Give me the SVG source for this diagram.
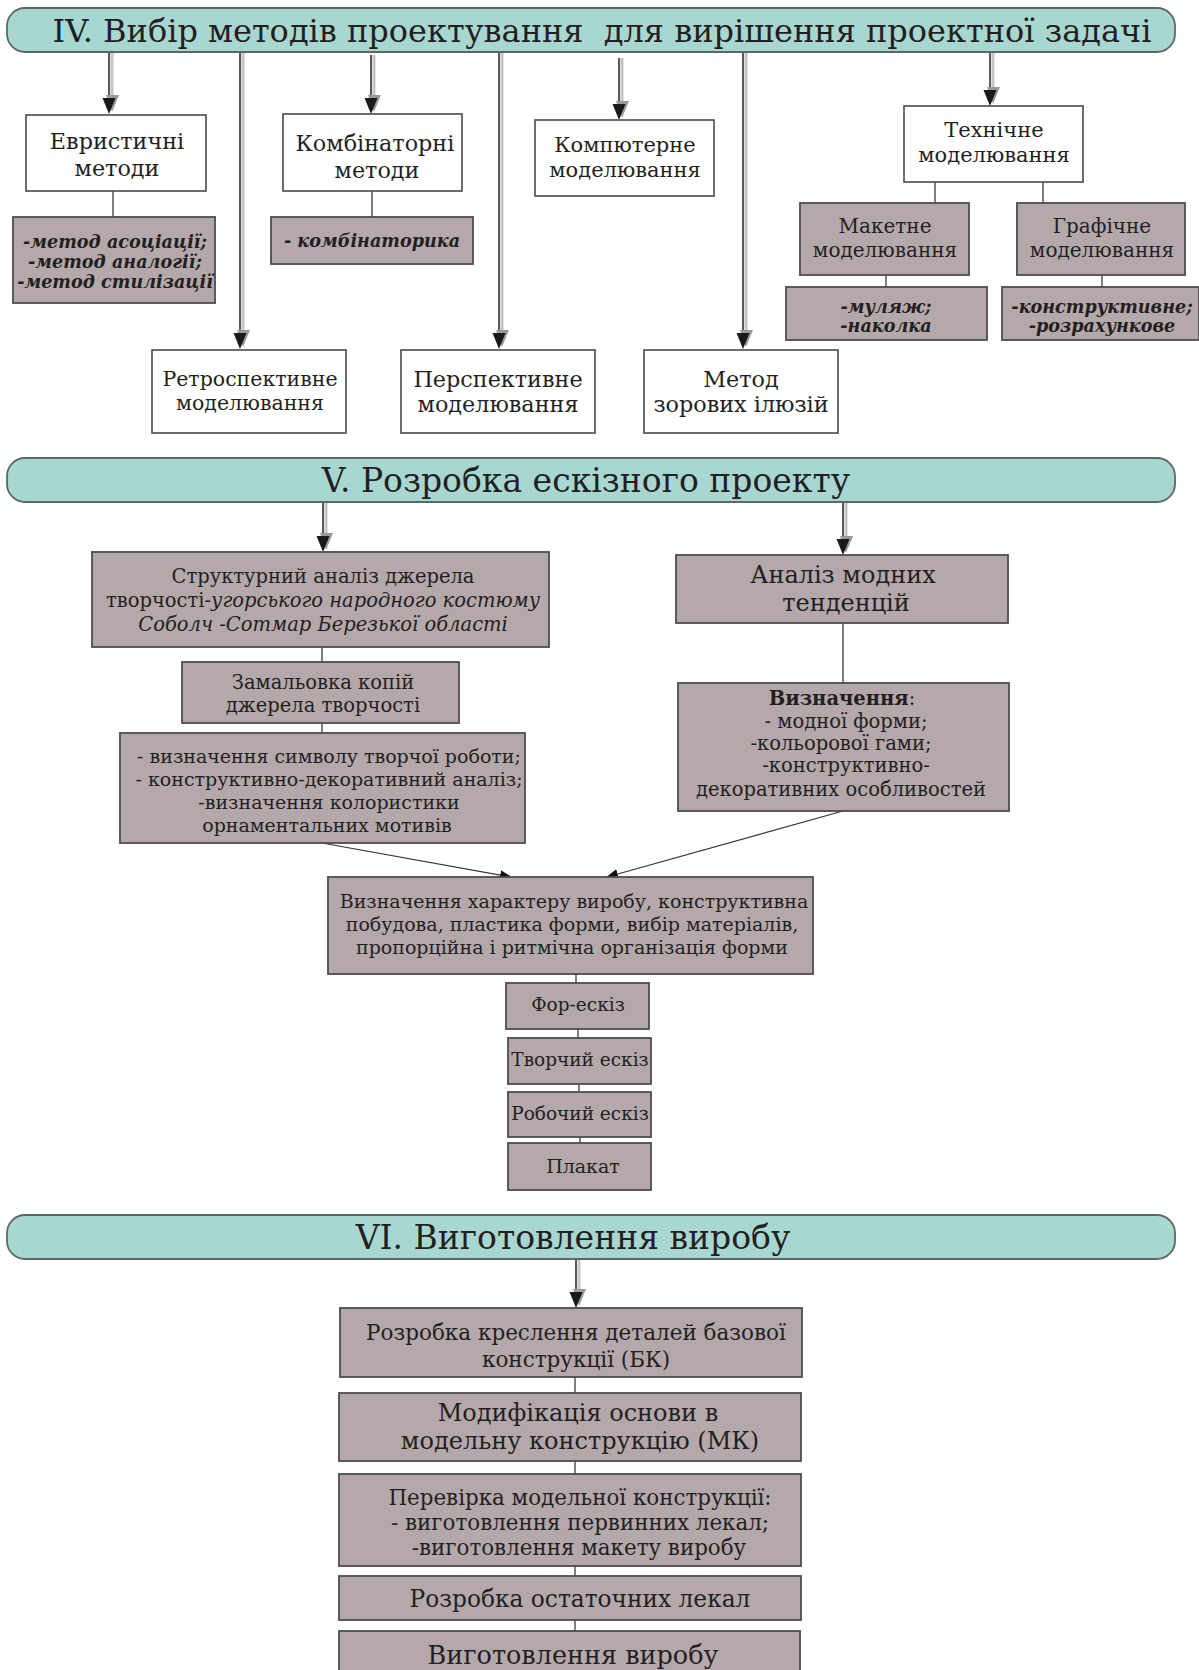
<svg xmlns="http://www.w3.org/2000/svg" xmlns:xlink="http://www.w3.org/1999/xlink" width="1199" height="1670" viewBox="0 0 1199 1670">
<style>
.wbox{fill:#ffffff;stroke:#4a4a4a;stroke-width:1.6}
.gbox{fill:#b4a8ab;stroke:#4d4d4d;stroke-width:1.8}
.ban{fill:#a8d7d1;stroke:#5a6866;stroke-width:1.8}
.t{font-family:"DejaVu Serif","Liberation Serif",serif;fill:#231f20;text-anchor:middle}
.bt{font-size:33px}
.s20{font-size:20.5px}
.s22{font-size:22.3px}
.s19{font-size:19.5px}
.bi{font-weight:bold;font-style:italic;font-size:17.6px}
.ln{stroke:#3a3a3a;stroke-width:1.3;fill:none}
.sh{stroke:#c4c4c4;stroke-width:3;fill:none}
.al{stroke:#222;stroke-width:1.5;fill:none}
.thin{stroke:#333;stroke-width:1.2;fill:none}
</style>
<defs>
<g id="ah">
<polygon points="-3,-19 10,-19 3,-2" fill="#9a9a9a"/>
<polygon points="-6.5,-16 6.5,-16 0,0" fill="#1a1a1a"/>
</g>
<marker id="sm" markerWidth="12" markerHeight="10" refX="11" refY="5" orient="auto" markerUnits="userSpaceOnUse">
<polygon points="0,0 12,5 0,10" fill="#111"/>
</marker>
</defs>

<g id="connectors">
<line class="sh" x1="112" y1="53" x2="112" y2="98"/><line class="al" x1="109" y1="53" x2="109" y2="100"/><use xlink:href="#ah" x="109" y="114"/>
<line class="sh" x1="243" y1="52" x2="243" y2="333"/><line class="al" x1="240" y1="52" x2="240" y2="335"/><use xlink:href="#ah" x="240" y="349"/>
<line class="sh" x1="374" y1="55" x2="374" y2="98"/><line class="al" x1="371" y1="55" x2="371" y2="100"/><use xlink:href="#ah" x="371" y="114"/>
<line class="sh" x1="502" y1="52" x2="502" y2="333"/><line class="al" x1="499" y1="52" x2="499" y2="335"/><use xlink:href="#ah" x="499" y="349"/>
<line class="sh" x1="622" y1="58" x2="622" y2="104"/><line class="al" x1="619" y1="58" x2="619" y2="106"/><use xlink:href="#ah" x="619" y="120"/>
<line class="sh" x1="746" y1="52" x2="746" y2="333"/><line class="al" x1="743" y1="52" x2="743" y2="335"/><use xlink:href="#ah" x="743" y="349"/>
<line class="sh" x1="993" y1="52" x2="993" y2="90"/><line class="al" x1="990" y1="52" x2="990" y2="92"/><use xlink:href="#ah" x="990" y="106"/>
<line class="ln" x1="113" y1="191" x2="113" y2="217"/>
<line class="ln" x1="372" y1="191" x2="372" y2="217"/>
<line class="ln" x1="935" y1="182" x2="935" y2="203"/>
<line class="ln" x1="1043" y1="182" x2="1043" y2="203"/>
<line class="ln" x1="886" y1="275" x2="886" y2="287"/>
<line class="ln" x1="1102" y1="275" x2="1102" y2="287"/>
<line class="sh" x1="326" y1="503" x2="326" y2="536"/><line class="al" x1="323" y1="503" x2="323" y2="538"/><use xlink:href="#ah" x="323" y="552"/>
<line class="sh" x1="846" y1="503" x2="846" y2="539"/><line class="al" x1="843" y1="503" x2="843" y2="541"/><use xlink:href="#ah" x="843" y="555"/>
<line class="ln" x1="322" y1="647" x2="322" y2="662"/>
<line class="ln" x1="322" y1="723" x2="322" y2="733"/>
<line class="ln" x1="843" y1="623" x2="843" y2="683"/>
<line class="thin" x1="322" y1="843" x2="511" y2="877" marker-end="url(#sm)"/>
<line class="thin" x1="843" y1="811" x2="607" y2="877" marker-end="url(#sm)"/>
<line class="ln" x1="576" y1="974" x2="576" y2="983"/>
<line class="ln" x1="578" y1="1029" x2="578" y2="1038"/>
<line class="ln" x1="579" y1="1084" x2="579" y2="1092"/>
<line class="ln" x1="580" y1="1137" x2="580" y2="1143"/>
<line class="sh" x1="579" y1="1260" x2="579" y2="1292"/><line class="al" x1="576" y1="1260" x2="576" y2="1294"/><use xlink:href="#ah" x="576" y="1308"/>
<line class="ln" x1="575" y1="1377" x2="575" y2="1393"/>
<line class="ln" x1="575" y1="1461" x2="575" y2="1474"/>
<line class="ln" x1="575" y1="1566" x2="575" y2="1576"/>
<line class="ln" x1="575" y1="1620" x2="575" y2="1631"/>
</g>

<g id="banner-iv">
<rect class="ban" x="7" y="8" width="1168" height="44" rx="18" ry="18"/>
<text class="t" font-size="32" x="602" y="42" xml:space="preserve">IV. Вибір методів проектування  для вирішення проектної задачі</text>
</g>
<g id="banner-v">
<rect class="ban" x="7" y="458" width="1168" height="44" rx="18" ry="18"/>
<text class="t bt" x="586" y="492">V. Розробка ескізного проекту</text>
</g>
<g id="banner-vi">
<rect class="ban" x="7" y="1215" width="1168" height="44" rx="18" ry="18"/>
<text class="t bt" x="573" y="1249">VI. Виготовлення виробу</text>
</g>

<g id="n-evr">
<rect class="wbox" x="26" y="115" width="180" height="76"/>
<text class="t s22" x="117" y="149">Евристичні</text>
<text class="t s22" x="117" y="176">методи</text>
</g>
<g id="n-evr-list">
<rect class="gbox" x="13" y="217" width="202" height="86"/>
<text class="t bi" x="115" y="248">-метод асоціації;</text>
<text class="t bi" x="115" y="268">-метод аналогії;</text>
<text class="t bi" x="115" y="288">-метод стилізації</text>
</g>
<g id="n-retro">
<rect class="wbox" x="152" y="350" width="194" height="83"/>
<text class="t s20" x="250" y="386">Ретроспективне</text>
<text class="t s20" x="250" y="410">моделювання</text>
</g>
<g id="n-komb">
<rect class="wbox" x="283" y="114" width="179" height="77"/>
<text class="t s22" x="375" y="151">Комбінаторні</text>
<text class="t s22" x="377" y="178">методи</text>
</g>
<g id="n-komb-list">
<rect class="gbox" x="271" y="217" width="202" height="47"/>
<text class="t bi" x="372" y="247">- комбінаторика</text>
</g>
<g id="n-persp">
<rect class="wbox" x="401" y="350" width="194" height="83"/>
<text class="t s22" x="498" y="387">Перспективне</text>
<text class="t s22" x="498" y="412">моделювання</text>
</g>
<g id="n-komp">
<rect class="wbox" x="535" y="120" width="179" height="76"/>
<text class="t" font-size="21" x="625" y="152">Компютерне</text>
<text class="t" font-size="21" x="625" y="177">моделювання</text>
</g>
<g id="n-metod">
<rect class="wbox" x="644" y="350" width="194" height="83"/>
<text class="t s22" x="741" y="387">Метод</text>
<text class="t s22" x="741" y="412">зорових ілюзій</text>
</g>
<g id="n-tekh">
<rect class="wbox" x="904" y="106" width="179" height="76"/>
<text class="t" font-size="21" x="994" y="137">Технічне</text>
<text class="t" font-size="21" x="994" y="162">моделювання</text>
</g>
<g id="n-maket">
<rect class="gbox" x="800" y="203" width="169" height="72"/>
<text class="t" font-size="20" x="885" y="233">Макетне</text>
<text class="t" font-size="20" x="885" y="257">моделювання</text>
</g>
<g id="n-graf">
<rect class="gbox" x="1017" y="203" width="168" height="72"/>
<text class="t" font-size="20" x="1102" y="233">Графічне</text>
<text class="t" font-size="20" x="1102" y="257">моделювання</text>
</g>
<g id="n-mulyazh">
<rect class="gbox" x="786" y="287" width="201" height="53"/>
<text class="t bi" x="886" y="313">-муляж;</text>
<text class="t bi" x="886" y="332">-наколка</text>
</g>
<g id="n-konstr">
<rect class="gbox" x="1002" y="287" width="197" height="53"/>
<text class="t bi" x="1102" y="313">-конструктивне;</text>
<text class="t bi" x="1102" y="332">-розрахункове</text>
</g>

<g id="n-struct">
<rect class="gbox" x="92" y="552" width="457" height="95"/>
<text class="t s19" x="323" y="583">Структурний аналіз джерела</text>
<text class="t s19" x="323" y="607">творчості-<tspan font-style="italic">угорського народного костюму</tspan></text>
<text class="t s19" x="323" y="631" font-style="italic">Соболч -Сотмар Березької області</text>
</g>
<g id="n-zamal">
<rect class="gbox" x="182" y="662" width="277" height="61"/>
<text class="t s19" x="323" y="689">Замальовка копій</text>
<text class="t s19" x="323" y="712">джерела творчості</text>
</g>
<g id="n-vyzn-symv">
<rect class="gbox" x="120" y="733" width="405" height="110"/>
<text class="t" font-size="19" x="329" y="763">- визначення символу творчої роботи;</text>
<text class="t" font-size="19" x="329" y="786">- конструктивно-декоративний аналіз;</text>
<text class="t" font-size="19" x="329" y="809">-визначення колористики</text>
<text class="t" font-size="19" x="327" y="832">орнаментальних мотивів</text>
</g>
<g id="n-analiz">
<rect class="gbox" x="676" y="555" width="332" height="68"/>
<text class="t" font-size="24" x="843" y="583">Аналіз модних</text>
<text class="t" font-size="24" x="846" y="611">тенденцій</text>
</g>
<g id="n-vyzn">
<rect class="gbox" x="678" y="683" width="331" height="128"/>
<text class="t s19" x="842" y="705"><tspan font-weight="bold">Визначення</tspan>:</text>
<text class="t s19" x="846" y="728">- модної форми;</text>
<text class="t s19" x="841" y="750">-кольорової гами;</text>
<text class="t s19" x="846" y="772">-конструктивно-</text>
<text class="t s19" x="841" y="796">декоративних особливостей</text>
</g>
<g id="n-kharakter">
<rect class="gbox" x="328" y="877" width="485" height="97"/>
<text class="t" font-size="19" x="574" y="908">Визначення характеру виробу, конструктивна</text>
<text class="t" font-size="19" x="572" y="931">побудова, пластика форми, вибір матеріалів,</text>
<text class="t" font-size="19" x="572" y="954">пропорційна і ритмічна організація форми</text>
</g>
<g id="n-for">
<rect class="gbox" x="506" y="983" width="143" height="46"/>
<text class="t" font-size="18.5" x="578" y="1011">Фор-ескіз</text>
</g>
<g id="n-tvorch">
<rect class="gbox" x="508" y="1038" width="143" height="46"/>
<text class="t" font-size="18.5" x="580" y="1066">Творчий ескіз</text>
</g>
<g id="n-roboch">
<rect class="gbox" x="508" y="1092" width="143" height="45"/>
<text class="t" font-size="18.5" x="580" y="1120">Робочий ескіз</text>
</g>
<g id="n-plakat">
<rect class="gbox" x="508" y="1143" width="143" height="47"/>
<text class="t" font-size="19" x="583" y="1173">Плакат</text>
</g>

<g id="n-rozr-kresl">
<rect class="gbox" x="340" y="1308" width="462" height="69"/>
<text class="t" font-size="21.5" x="576" y="1340">Розробка креслення деталей базової</text>
<text class="t" font-size="21.5" x="576" y="1367">конструкції (БК)</text>
</g>
<g id="n-modyf">
<rect class="gbox" x="339" y="1393" width="462" height="68"/>
<text class="t" font-size="24" x="578" y="1421">Модифікація основи в</text>
<text class="t" font-size="24" x="580" y="1449">модельну конструкцію (МК)</text>
</g>
<g id="n-perevirka">
<rect class="gbox" x="339" y="1474" width="462" height="92"/>
<text class="t" font-size="21.4" x="580" y="1505">Перевірка модельної конструкції:</text>
<text class="t" font-size="21.4" x="580" y="1530">- виготовлення первинних лекал;</text>
<text class="t" font-size="21.4" x="579" y="1555">-виготовлення макету виробу</text>
</g>
<g id="n-ostat">
<rect class="gbox" x="339" y="1576" width="462" height="44"/>
<text class="t" font-size="23.3" x="580" y="1607">Розробка остаточних лекал</text>
</g>
<g id="n-vyhot">
<rect class="gbox" x="339" y="1631" width="461" height="50"/>
<text class="t" font-size="25.5" x="573" y="1664">Виготовлення виробу</text>
</g>
</svg>
